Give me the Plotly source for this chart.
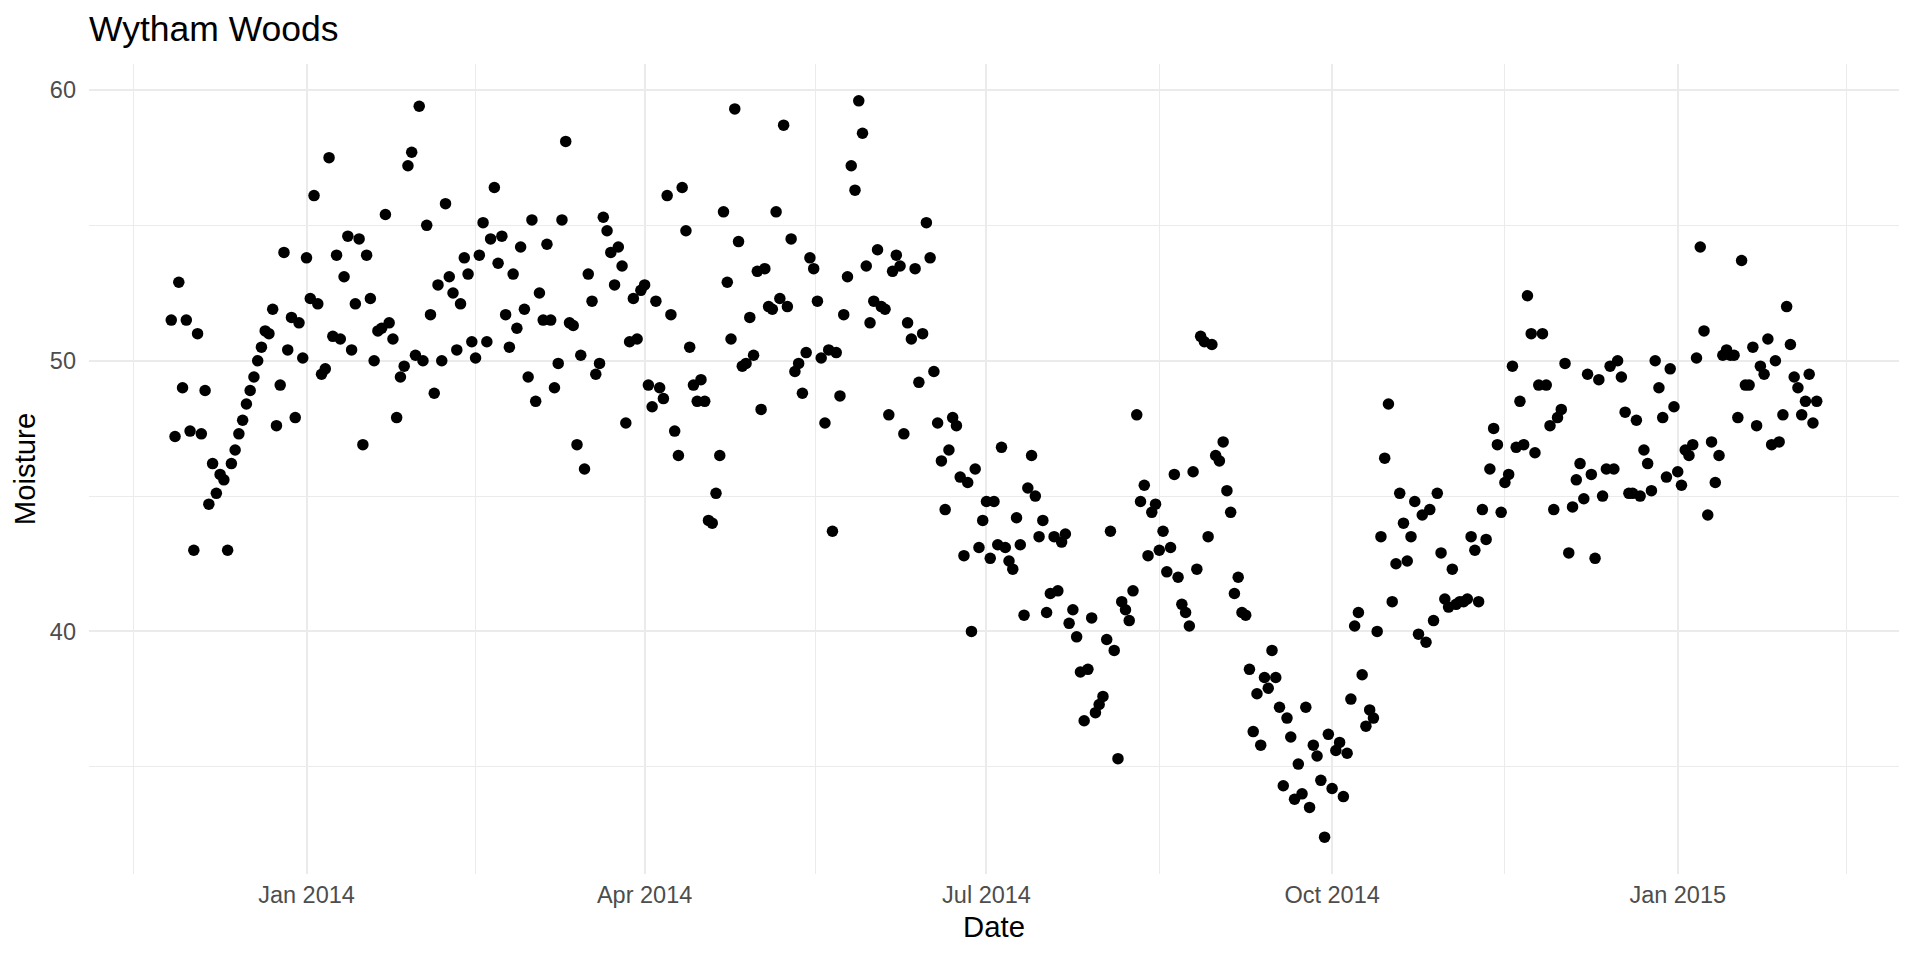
import pandas as pd
import plotly.graph_objects as go

# ---- data (daily soil moisture readings) ----
start_date = "2013-11-26"

moisture = [
    # 2013-11-26 .. 2013-12-31
    51.5, 47.2, 52.9, 49.0, 51.5, 47.4, 43.0, 51.0, 47.3, 48.9,
    44.7, 46.2, 45.1, 45.8, 45.6, 43.0, 46.2, 46.7, 47.3, 47.8,
    48.4, 48.9, 49.4, 50.0, 50.5, 51.1, 51.0, 51.9, 47.6, 49.1,
    54.0, 50.4, 51.6, 47.9, 51.4, 50.1,
    # 2014-01-01 ..
    53.8, 52.3, 56.1, 52.1, 49.5, 49.7, 57.5, 50.9, 53.9, 50.8,
    53.1, 54.6, 50.4, 52.1, 54.5, 46.9, 53.9, 52.3, 50.0, 51.1,
    51.2, 55.4, 51.4, 50.8, 47.9, 49.4, 49.8, 57.2, 57.7, 50.2,
    59.4, 50.0, 55.0, 51.7, 48.8, 52.8, 50.0, 55.8, 53.1,
    52.5, 50.4, 52.1, 53.8, 53.2, 50.7, 50.1, 53.9, 55.1, 50.7,
    54.5, 56.4, 53.6, 54.6, 51.7, 50.5, 53.2, 51.2, 54.2, 51.9,
    49.4, 55.2, 48.5, 52.5, 51.5, 54.3, 51.5, 49.0, 49.9, 55.2,
    58.1, 51.4, 51.3, 46.9, 50.2, 46.0, 53.2,
    52.2, 49.5, 49.9, 55.3, 54.8, 54.0, 52.8, 54.2, 53.5, 47.7,
    50.7, 52.3, 50.8, 52.6, 52.8, 49.1, 48.3, 52.2, 49.0, 48.6,
    56.1, 51.7, 47.4, 46.5, 56.4, 54.8, 50.5, 49.1, 48.5, 49.3,
    48.5, 44.1, 44.0, 45.1, 46.5, 55.5, 52.9, 50.8, 59.3,
    54.4, 49.8, 49.9, 51.6, 50.2, 53.3, 48.2, 53.4, 52.0, 51.9,
    55.5, 52.3, 58.7, 52.0, 54.5, 49.6, 49.9, 48.8, 50.3, 53.8,
    53.4, 52.2, 50.1, 47.7, 50.4, 43.7, 50.3, 48.7, 51.7, 53.1,
    57.2, 56.3, 59.6, 58.4, 53.5, 51.4, 52.2,
    54.1, 52.0, 51.9, 48.0, 53.3, 53.9, 53.5, 47.3, 51.4, 50.8,
    53.4, 49.2, 51.0, 55.1, 53.8, 49.6, 47.7, 46.3, 44.5, 46.7,
    47.9, 47.6, 45.7, 42.8, 45.5, 40.0, 46.0, 43.1, 44.1, 44.8,
    42.7, 44.8, 43.2, 46.8, 43.1, 42.6, 42.3, 44.2, 43.2,
    40.6, 45.3, 46.5, 45.0, 43.5, 44.1, 40.7, 41.4, 43.5, 41.5,
    43.3, 43.6, 40.3, 40.8, 39.8, 38.5, 36.7, 38.6, 40.5, 37.0,
    37.3, 37.6, 39.7, 43.7, 39.3, 35.3, 41.1, 40.8, 40.4, 41.5,
    48.0, 44.8, 45.4, 42.8, 44.4, 44.7, 43.0, 43.7, 42.2,
    43.1, 45.8, 42.0, 41.0, 40.7, 40.2, 45.9, 42.3, 50.9, 50.7,
    43.5, 50.6, 46.5, 46.3, 47.0, 45.2, 44.4, 41.4, 42.0, 40.7,
    40.6, 38.6, 36.3, 37.7, 35.8, 38.3, 37.9, 39.3, 38.3, 37.2,
    34.3, 36.8, 36.1, 33.8, 35.1, 34.0, 37.2,
    33.5, 35.8, 35.4, 34.5, 32.4, 36.2, 34.2, 35.6, 35.9, 33.9,
    35.5, 37.5, 40.2, 40.7, 38.4, 36.5, 37.1, 36.8, 40.0, 43.5,
    46.4, 48.4, 41.1, 42.5, 45.1, 44.0, 42.6, 43.5, 44.8, 39.9,
    44.3, 39.6, 44.5, 40.4, 45.1, 42.9, 41.2, 40.9, 42.3,
    41.0, 41.1, 41.1, 41.2, 43.5, 43.0, 41.1, 44.5, 43.4, 46.0,
    47.5, 46.9, 44.4, 45.5, 45.8, 49.8, 46.8, 48.5, 46.9, 52.4,
    51.0, 46.6, 49.1, 51.0, 49.1, 47.6, 44.5, 47.9, 48.2, 49.9,
    42.9, 44.6, 45.6, 46.2, 44.9, 49.5, 45.8, 42.7,
    49.3, 45.0, 46.0, 49.8, 46.0, 50.0, 49.4, 48.1, 45.1, 45.1,
    47.8, 45.0, 46.7, 46.2, 45.2, 50.0, 49.0, 47.9, 45.7, 49.7,
    48.3, 45.9, 45.4, 46.7, 46.5, 46.9, 50.1, 54.2, 51.1, 44.3,
    47.0, 45.5, 46.5, 50.2, 50.4, 50.2, 50.2,
    47.9, 53.7, 49.1, 49.1, 50.5, 47.6, 49.8, 49.5, 50.8, 46.9,
    50.0, 47.0, 48.0, 52.0, 50.6, 49.4, 49.0, 48.0, 48.5, 49.5,
    47.7, 48.5,
]

x_tick_vals = ["2014-01-01", "2014-04-01", "2014-07-01", "2014-10-01", "2015-01-01"]
x_tick_text = ["Jan 2014", "Apr 2014", "Jul 2014", "Oct 2014", "Jan 2015"]
x_minor_vals = ["2013-11-16", "2014-02-15", "2014-05-16 12:00", "2014-08-16",
                "2014-11-16", "2015-02-15"]
y_tick_vals = [40, 50, 60]
y_minor_vals = [35, 45, 55]

dates = pd.date_range(start_date, periods=len(moisture), freq="D")

# ggplot-style 5% expansion
span = dates.max() - dates.min()
x_range = [(dates.min() - span * 0.05).strftime("%Y-%m-%d %H:%M:%S"),
           (dates.max() + span * 0.05).strftime("%Y-%m-%d %H:%M:%S")]
ymin, ymax = min(moisture), max(moisture)
ypad = (ymax - ymin) * 0.05
y_range = [ymin - ypad, ymax + ypad]

FONT = "Liberation Sans, Arial, sans-serif"
GRID = "#EBEBEB"

fig = go.Figure(
    go.Scatter(
        x=dates, y=moisture, mode="markers",
        marker=dict(color="black", size=11.5, line=dict(width=0)),
        hoverinfo="x+y",
    )
)

fig.update_layout(
    width=1920, height=960,
    paper_bgcolor="white", plot_bgcolor="white",
    margin=dict(l=81, r=29, t=56, b=94, autoexpand=False),
    showlegend=False,
    font=dict(family=FONT, color="black"),
    title=dict(
        text="Wytham Woods", font=dict(size=35.5, color="black", family=FONT),
        x=81 / 1920, xanchor="left", xref="container",
        y=1 - 21 / 960, yanchor="middle", yref="container",
    ),
)

fig.update_xaxes(
    type="date", range=x_range,
    tickmode="array", tickvals=x_tick_vals, ticktext=x_tick_text,
    tickfont=dict(size=23.5, color="#4D4D4D", family=FONT),
    ticks="", ticklabelstandoff=4,
    showgrid=True, gridcolor=GRID, gridwidth=2.1,
    minor=dict(tickmode="array", tickvals=x_minor_vals, showgrid=True,
               gridcolor=GRID, gridwidth=1.05, ticks=""),
    zeroline=False, showline=False, automargin=False,
    title=dict(text="Date", font=dict(size=29.3, color="black", family=FONT), standoff=9),
)
fig.update_yaxes(
    range=y_range,
    tickmode="array", tickvals=y_tick_vals, ticktext=[str(v) for v in y_tick_vals],
    tickfont=dict(size=23.5, color="#4D4D4D", family=FONT),
    ticks="", ticklabelstandoff=12,
    showgrid=True, gridcolor=GRID, gridwidth=2.1,
    minor=dict(tickmode="array", tickvals=y_minor_vals, showgrid=True,
               gridcolor=GRID, gridwidth=1.05, ticks=""),
    zeroline=False, showline=False, automargin=False,
    title=dict(text="Moisture", font=dict(size=29.3, color="black", family=FONT), standoff=6),
)

fig.write_html("out.html")
